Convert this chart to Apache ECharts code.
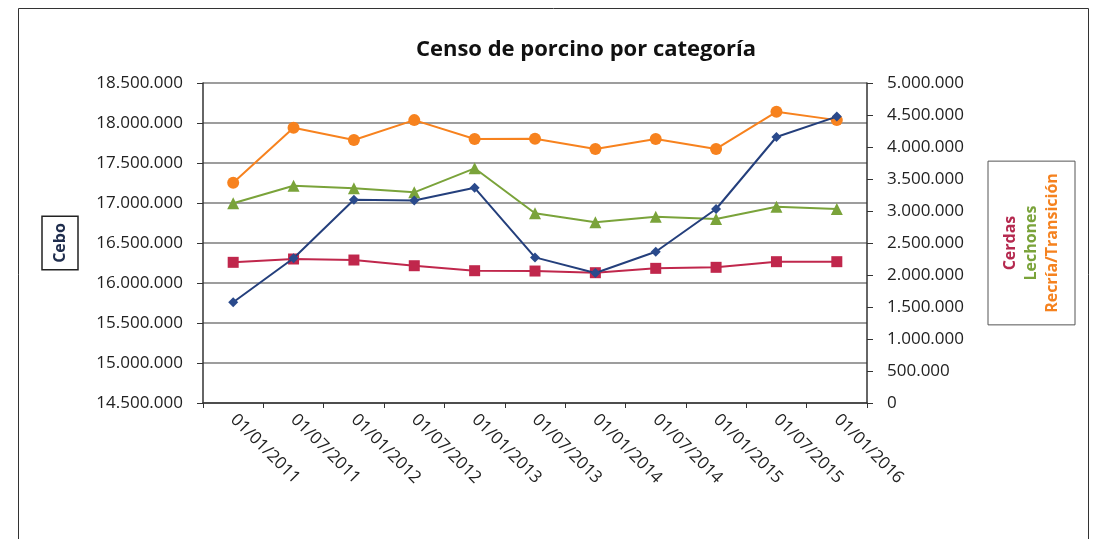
<!DOCTYPE html>
<html>
<head>
<meta charset="utf-8">
<script src="https://cdn.jsdelivr.net/npm/echarts@6/dist/echarts.min.js"></script>
<style>
  html, body { margin: 0; padding: 0; background: #fff; }
  #chart { width: 1104px; height: 539px; }
</style>
</head>
<body>
<div id="chart"></div>
<script>
var fechas = ['01/01/2011', '01/07/2011', '01/01/2012', '01/07/2012', '01/01/2013', '01/07/2013',
    '01/01/2014', '01/07/2014', '01/01/2015', '01/07/2015', '01/01/2016'];
var cebo = [15760000, 16310000, 17040000, 17030000, 17190000, 16320000, 16125000, 16390000, 16925000, 17825000, 18080000];
var cerdas = [2198000, 2250000, 2234000, 2145000, 2067000, 2062000, 2036000, 2104000, 2120000, 2208000, 2208000];
var lechones = [3120000, 3395000, 3354000, 3292000, 3667000, 2964000, 2823000, 2911000, 2875000, 3068000, 3031000];
var recria = [3443000, 4302000, 4110000, 4420000, 4125000, 4130000, 3970000, 4125000, 3970000, 4550000, 4420000];

var fuente = '"Open Sans", Lato, sans-serif';

function miles(v) {
    return String(v).replace(/\B(?=(\d{3})+(?!\d))/g, '.');
}

var myChart = echarts.init(document.getElementById('chart'));
var option = {
    backgroundColor: '#fff',
    animation: false,
    textStyle: { fontFamily: fuente },
    title: {
        text: 'Censo de porcino por categoría',
        left: 581,
        top: 34,
        textAlign: 'center',
        textStyle: { fontSize: 22, fontWeight: 'bold', color: '#111', fontFamily: fuente }
    },
    graphic: [{
        type: 'rect',
        shape: { x: 18.5, y: 8.5, width: 1070, height: 540 },
        style: { fill: 'none', stroke: '#333', lineWidth: 1 }
    }],
    grid: { left: 203, right: 237, top: 83, bottom: 136 },
    xAxis: {
        type: 'category',
        data: fechas,
        boundaryGap: true,
        axisLine: { lineStyle: { color: '#333', width: 1.5 } },
        axisTick: { show: true, length: 5, lineStyle: { color: '#333' } },
        axisLabel: { rotate: -45, fontSize: 17, color: '#222', margin: 14, interval: 0 }
    },
    yAxis: [{
        type: 'value',
        min: 14500000,
        max: 18500000,
        interval: 500000,
        name: 'Cebo',
        nameLocation: 'middle',
        nameGap: 125,
        nameRotate: 90,
        nameTextStyle: {
            fontSize: 16, fontWeight: 'bold', color: '#1f2d4d',
            borderColor: '#222', borderWidth: 1.5, padding: [10, 7, 10, 7]
        },
        axisLine: { show: true, lineStyle: { color: '#333', width: 1.5 } },
        axisTick: { show: true, inside: false, length: 6, lineStyle: { color: '#333' } },
        axisLabel: { fontSize: 17, color: '#222', margin: 20, formatter: miles },
        splitLine: { show: true, lineStyle: { color: '#7d7d7d', width: 1.5 } }
    }, {
        type: 'value',
        min: 0,
        max: 5000000,
        interval: 500000,
        name: '{a|Cerdas}\n{b|Lechones}\n{c|Recría/Transición}',
        nameLocation: 'middle',
        nameGap: 121,
        nameRotate: 90,
        nameTextStyle: {
            borderColor: '#555', borderWidth: 1, padding: [12, 12, 12, 12],
            rich: {
                a: { fontSize: 16, fontWeight: 'bold', color: '#b5294f', lineHeight: 21 },
                b: { fontSize: 16, fontWeight: 'bold', color: '#7aa33a', lineHeight: 21 },
                c: { fontSize: 16, fontWeight: 'bold', color: '#f5821f', lineHeight: 21 }
            }
        },
        axisLine: { show: true, lineStyle: { color: '#333', width: 1.5 } },
        axisTick: { show: true, length: 6, lineStyle: { color: '#333' } },
        axisLabel: { fontSize: 17, color: '#222', margin: 20, formatter: miles },
        splitLine: { show: false }
    }],
    series: [{
        name: 'Cebo',
        type: 'line',
        yAxisIndex: 0,
        data: cebo,
        symbol: 'diamond',
        symbolSize: 10,
        z: 4,
        lineStyle: { color: '#243f7c', width: 2 },
        itemStyle: { color: '#2a4a8c' }
    }, {
        name: 'Cerdas',
        type: 'line',
        yAxisIndex: 1,
        data: cerdas,
        symbol: 'rect',
        symbolSize: 11,
        z: 3,
        lineStyle: { color: '#c0274c', width: 2 },
        itemStyle: { color: '#c0274c' }
    }, {
        name: 'Lechones',
        type: 'line',
        yAxisIndex: 1,
        data: lechones,
        symbol: 'triangle',
        symbolSize: 12,
        z: 3,
        lineStyle: { color: '#7aa33a', width: 2 },
        itemStyle: { color: '#7aa33a' }
    }, {
        name: 'Recría/Transición',
        type: 'line',
        yAxisIndex: 1,
        data: recria,
        symbol: 'circle',
        symbolSize: 12,
        z: 3,
        lineStyle: { color: '#f7821e', width: 2 },
        itemStyle: { color: '#f7821e' }
    }]
};
myChart.setOption(option);
</script>
</body>
</html>
